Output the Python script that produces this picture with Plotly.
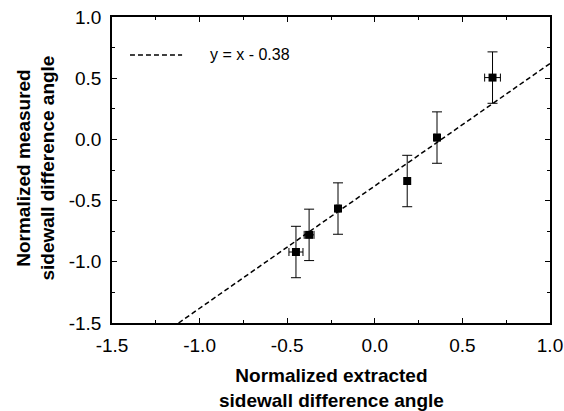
import plotly.graph_objects as go

# Data
x_vals = [-0.45, -0.375, -0.21, 0.185, 0.355, 0.672]
y_vals = [-0.92, -0.78, -0.565, -0.34, 0.015, 0.505]
x_err = [0.04, 0.028, 0.01, 0.005, 0.012, 0.045]
y_err = [0.21, 0.21, 0.21, 0.21, 0.21, 0.21]

fit_x = [-1.12, 1.0]
fit_offset = -0.38
fit_y = [v + fit_offset for v in fit_x]
fit_label = "y = x - 0.38"

x_ticks = [-1.5, -1.0, -0.5, 0.0, 0.5, 1.0]
y_ticks = [-1.5, -1.0, -0.5, 0.0, 0.5, 1.0]

font = "Liberation Sans, Arial, sans-serif"

fig = go.Figure()
fig.add_trace(go.Scatter(
    x=fit_x, y=fit_y, mode="lines", name=fit_label,
    line=dict(color="black", width=1.5, dash="5px,3px"),
    showlegend=False,
))
fig.add_trace(go.Scatter(
    x=x_vals, y=y_vals, mode="markers", showlegend=False,
    marker=dict(symbol="square", size=8, color="black"),
    error_y=dict(type="data", array=y_err, color="black", thickness=1, width=5),
    error_x=dict(type="data", array=x_err, color="black", thickness=1, width=4),
))

axis_common = dict(
    showline=True, linecolor="black", linewidth=1.6, mirror="ticks",
    ticks="inside", ticklen=5, tickwidth=1.2, tickcolor="black",
    showgrid=False, zeroline=False, automargin=False,
    ticklabeloverflow="allow",
    tickfont=dict(family=font, size=19, color="black"),
    minor=dict(ticks="inside", ticklen=3, tickwidth=1, tickcolor="black", dtick=0.25, showgrid=False),
)

fig.update_xaxes(
    range=[-1.5, 1.0], tickvals=x_ticks, ticktext=[f"{v:.1f}" for v in x_ticks],
    ticklabelstandoff=4,
    **axis_common,
)
fig.update_yaxes(
    range=[-1.5, 1.0], tickvals=y_ticks, ticktext=[f"{v:.1f}" for v in y_ticks],
    ticklabelstandoff=5,
    **axis_common,
)

# Axis titles as annotations for exact placement
fig.add_annotation(xref="paper", yref="paper", x=0.5, y=-0.13,
                   xanchor="center", yanchor="top", showarrow=False,
                   text="<b>Normalized extracted<br>sidewall difference angle</b>",
                   font=dict(family=font, size=19, color="black"))
fig.add_annotation(xref="paper", yref="paper", x=-0.1735, y=0.505,
                   xanchor="center", yanchor="middle", showarrow=False, textangle=-90,
                   text="<b>Normalized measured<br>sidewall difference angle</b>",
                   font=dict(family=font, size=19, color="black"))

# Legend drawn manually to match the long dashed sample of the reference
fig.add_shape(type="line", xref="paper", yref="paper",
              x0=0.041, x1=0.160, y0=0.876, y1=0.876,
              line=dict(color="black", width=1.5, dash="5px,3px"))
fig.add_annotation(xref="paper", yref="paper", x=0.219, y=0.876,
                   xanchor="left", yanchor="middle", showarrow=False,
                   text=fit_label, font=dict(family=font, size=16, color="black"))

fig.update_layout(
    width=564, height=411,
    margin=dict(l=112, r=14, t=17, b=88),
    paper_bgcolor="white", plot_bgcolor="white",
    font=dict(family=font, color="black"),
    showlegend=False,
)

# Remove the default page margin so the figure fills the window exactly
fig.write_html("out.html",
               config={"displayModeBar": False},
               post_script="document.body.style.margin='0';document.body.style.overflow='hidden';")
